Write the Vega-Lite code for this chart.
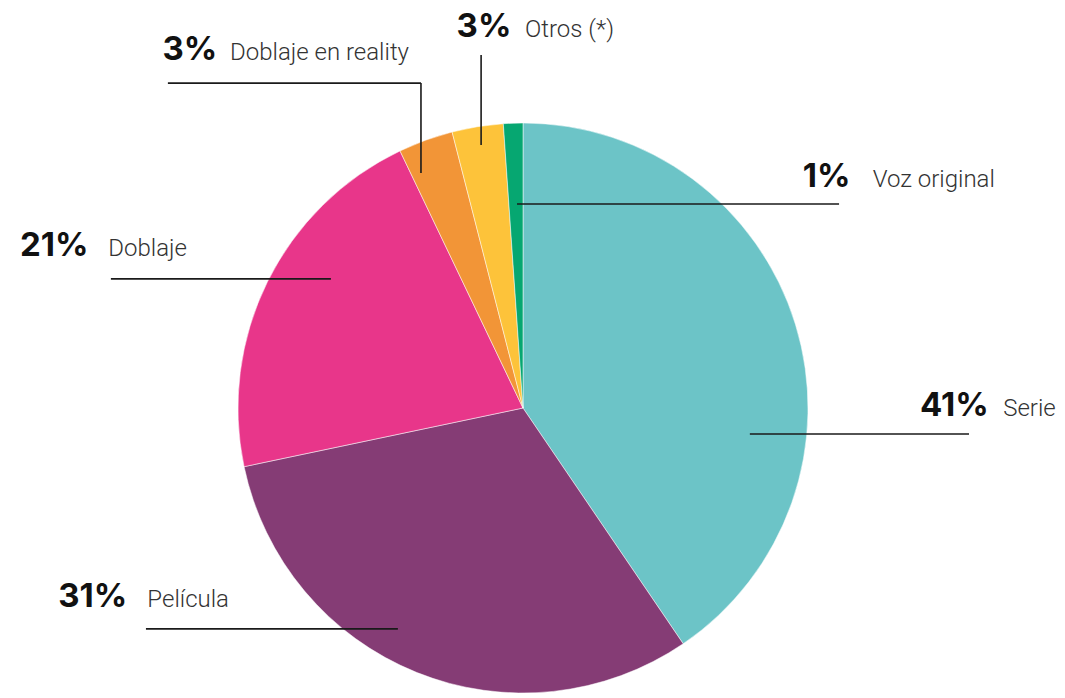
{
  "$schema": "https://vega.github.io/schema/vega-lite/v6.json",
  "width": 1065,
  "height": 698,
  "autosize": {"type": "fit", "contains": "padding"},
  "padding": 0,
  "background": "white",
  "config": {"view": {"stroke": null}},
  "datasets": {
    "slices": [
      {"category": "Serie", "share": 40.5, "ord": 1},
      {"category": "Película", "share": 31.2, "ord": 2},
      {"category": "Doblaje", "share": 21.2, "ord": 3},
      {"category": "Doblaje en reality", "share": 3.1, "ord": 4},
      {"category": "Otros (*)", "share": 2.9, "ord": 5},
      {"category": "Voz original", "share": 1.1, "ord": 6}
    ],
    "leaders": [
      {"category": "Doblaje en reality", "x1": -124.6, "x2": -35.8, "y1": 114.0, "y2": 114.0},
      {"category": "Doblaje en reality", "x1": -35.8, "x2": -35.8, "y1": 114.0, "y2": 82.5},
      {"category": "Otros (*)", "x1": -14.7, "x2": -14.7, "y1": 123.9, "y2": 92.3},
      {"category": "Voz original", "x1": -2.1, "x2": 110.9, "y1": 71.6, "y2": 71.6},
      {"category": "Doblaje", "x1": -144.6, "x2": -67.4, "y1": 45.3, "y2": 45.3},
      {"category": "Serie", "x1": 79.6, "x2": 156.5, "y1": -9.1, "y2": -9.1},
      {"category": "Película", "x1": -132.3, "x2": -43.9, "y1": -77.5, "y2": -77.5}
    ],
    "labels": [
      {"category": "Doblaje en reality", "pct": "3%", "px": -126.5, "nx": -102.8, "y": 122.2},
      {"category": "Otros (*)", "pct": "3%", "px": -23.3, "nx": 0.7, "y": 130.1},
      {"category": "Voz original", "pct": "1%", "px": 98.2, "nx": 122.7, "y": 77.6},
      {"category": "Doblaje", "pct": "21%", "px": -176.5, "nx": -145.5, "y": 53.3},
      {"category": "Serie", "pct": "41%", "px": 139.3, "nx": 168.5, "y": -2.8},
      {"category": "Película", "pct": "31%", "px": -163.1, "nx": -131.8, "y": -69.7}
    ]
  },
  "layer": [
    {
      "data": {"name": "slices"},
      "mark": {"type": "arc", "outerRadius": 285, "stroke": "white", "strokeWidth": 0.5},
      "encoding": {
        "theta": {"field": "share", "type": "quantitative", "stack": true},
        "order": {"field": "ord", "type": "quantitative"},
        "color": {
          "field": "category",
          "type": "nominal",
          "scale": {
            "domain": ["Serie", "Película", "Doblaje", "Doblaje en reality", "Otros (*)", "Voz original"],
            "range": ["#6CC4C7", "#853C75", "#E8368A", "#F29537", "#FDC33A", "#06A771"]
          },
          "legend": null
        },
        "x": {"datum": 0, "type": "quantitative", "scale": {"domain": [-183.51, 190.18], "nice": false, "zero": false}, "axis": null},
        "y": {"datum": 0, "type": "quantitative", "scale": {"domain": [-101.75, 143.16], "nice": false, "zero": false}, "axis": null}
      }
    },
    {
      "data": {"name": "leaders"},
      "mark": {"type": "rule", "color": "#1a1a1a", "strokeWidth": 1.6},
      "encoding": {
        "x": {"field": "x1", "type": "quantitative", "scale": {"domain": [-183.51, 190.18], "nice": false, "zero": false}, "axis": null},
        "x2": {"field": "x2"},
        "y": {"field": "y1", "type": "quantitative", "scale": {"domain": [-101.75, 143.16], "nice": false, "zero": false}, "axis": null},
        "y2": {"field": "y2"}
      }
    },
    {
      "data": {"name": "labels"},
      "mark": {"type": "text", "align": "left", "baseline": "alphabetic", "font": "Inter", "fontWeight": 700, "fontSize": 33, "color": "#111111"},
      "encoding": {
        "x": {"field": "px", "type": "quantitative", "axis": null},
        "y": {"field": "y", "type": "quantitative", "axis": null},
        "text": {"field": "pct"}
      }
    },
    {
      "data": {"name": "labels"},
      "mark": {"type": "text", "align": "left", "baseline": "alphabetic", "font": "Roboto", "fontWeight": 300, "fontSize": 24, "color": "#333333"},
      "encoding": {
        "x": {"field": "nx", "type": "quantitative", "axis": null},
        "y": {"field": "y", "type": "quantitative", "axis": null},
        "text": {"field": "category"}
      }
    }
  ]
}
